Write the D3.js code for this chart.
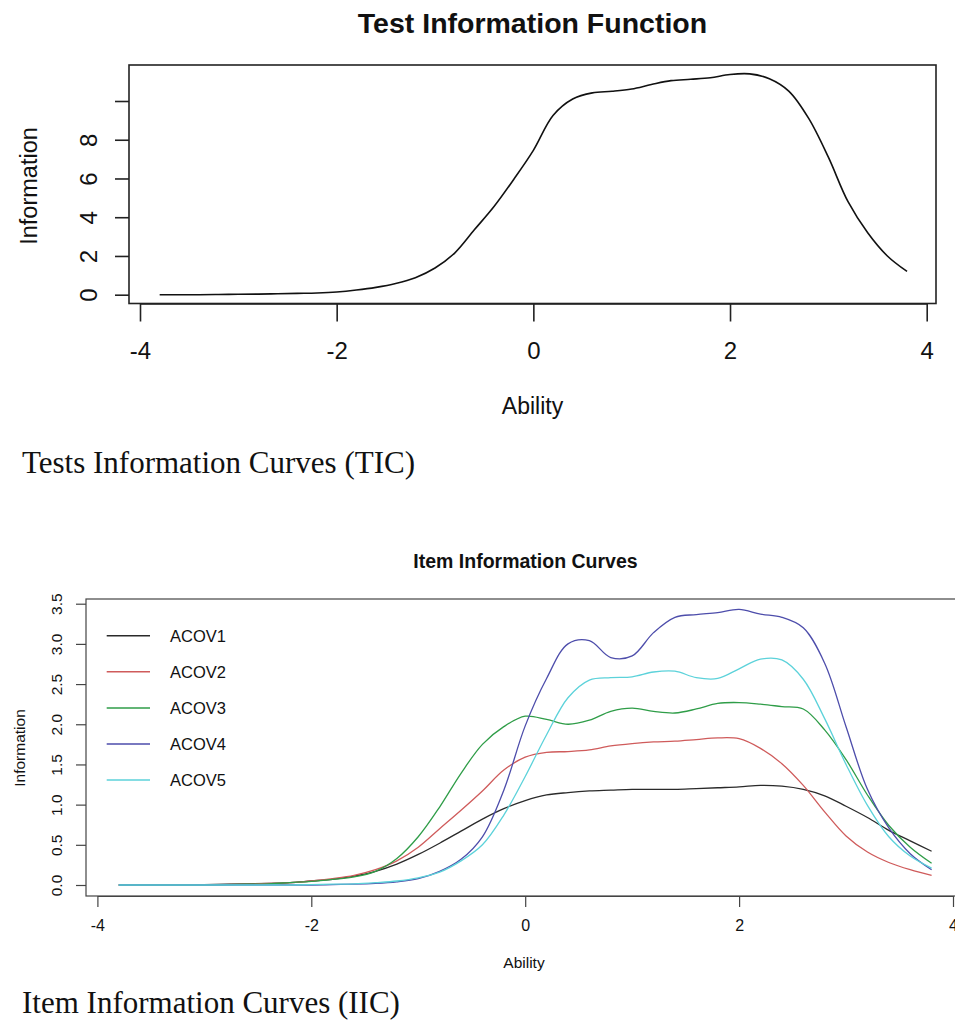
<!DOCTYPE html>
<html>
<head>
<meta charset="utf-8">
<script src="https://cdn.jsdelivr.net/npm/d3@7"></script>
<style>
  body { margin: 0; background: #fff; }
  svg { display: block; }
  text { font-family: "Liberation Sans", Arial, sans-serif; fill: #111; }
  .caption { font-family: "Liberation Serif", "Times New Roman", serif; }
</style>
</head>
<body>
<svg id="chart" width="955" height="1020"></svg>
<script>
// ability grid shared by every curve
const ability = [-3.8, -3.6, -3.4, -3.2, -3.0, -2.8, -2.6, -2.4, -2.2, -2.0,
  -1.8, -1.6, -1.4, -1.2, -1.0, -0.8, -0.6, -0.4, -0.2, 0.0,
  0.2, 0.4, 0.6, 0.8, 1.0, 1.2, 1.4, 1.6, 1.8, 2.0,
  2.2, 2.4, 2.6, 2.8, 3.0, 3.2, 3.4, 3.6, 3.8];

// test information function
const testInfo = [0, 0, 0, 0.01, 0.02, 0.03, 0.05, 0.07, 0.09, 0.14,
  0.24, 0.38, 0.58, 0.88, 1.38, 2.15, 3.35, 4.55, 5.95, 7.45,
  9.25, 10.1, 10.42, 10.5, 10.62, 10.85, 11.05, 11.12, 11.2, 11.37,
  11.4, 11.15, 10.5, 9.1, 7.1, 4.8, 3.2, 2.0, 1.2];

// item information curves
const acov1 = [0, 0, 0, 0, 0.005, 0.01, 0.015, 0.02, 0.03, 0.05,
  0.07, 0.11, 0.17, 0.26, 0.38, 0.52, 0.67, 0.82, 0.95, 1.05,
  1.12, 1.15, 1.17, 1.18, 1.19, 1.19, 1.19, 1.2, 1.21, 1.22,
  1.24, 1.23, 1.19, 1.11, 0.98, 0.84, 0.68, 0.55, 0.42];
const acov2 = [0, 0, 0, 0, 0, 0.005, 0.01, 0.02, 0.03, 0.05,
  0.08, 0.12, 0.19, 0.3, 0.47, 0.7, 0.93, 1.17, 1.43, 1.59,
  1.65, 1.66, 1.68, 1.73, 1.76, 1.78, 1.79, 1.81, 1.83, 1.82,
  1.7, 1.51, 1.24, 0.91, 0.61, 0.41, 0.28, 0.19, 0.12];
const acov3 = [0, 0, 0, 0, 0, 0.005, 0.01, 0.015, 0.03, 0.045,
  0.07, 0.1, 0.17, 0.33, 0.6, 0.97, 1.39, 1.75, 1.97, 2.1,
  2.06, 2.0, 2.05, 2.16, 2.2, 2.16, 2.14, 2.19, 2.26, 2.27,
  2.25, 2.22, 2.19, 1.93, 1.56, 1.12, 0.74, 0.47, 0.27];
const acov4 = [0, 0, 0, 0, 0, 0, 0, 0, 0, 0,
  0.005, 0.01, 0.02, 0.04, 0.08, 0.17, 0.32, 0.6, 1.18, 1.98,
  2.57, 3.0, 3.04, 2.83, 2.85, 3.14, 3.33, 3.365, 3.39, 3.43,
  3.37, 3.33, 3.2, 2.76, 1.97, 1.19, 0.71, 0.39, 0.19];
const acov5 = [0, 0, 0, 0, 0, 0, 0, 0, 0, 0.005,
  0.01, 0.015, 0.03, 0.05, 0.09, 0.16, 0.3, 0.5, 0.87, 1.35,
  1.87, 2.33, 2.55, 2.58, 2.59, 2.65, 2.66, 2.58, 2.57, 2.69,
  2.81, 2.8, 2.56, 2.07, 1.5, 0.99, 0.6, 0.36, 0.21];

const itemNames = ["ACOV1", "ACOV2", "ACOV3", "ACOV4", "ACOV5"];
const itemSeries = [acov1, acov2, acov3, acov4, acov5];

// tick values / labels
const xTicks = [-4, -2, 0, 2, 4];
const tifYTicks = [0, 2, 4, 6, 8, 10];
const tifYLabels = ["0", "2", "4", "6", "8", ""]; // R drops the "10"
const iicYTicks = [0, 0.5, 1, 1.5, 2, 2.5, 3, 3.5];

const itemColors = ["#2a2a2a", "#cf5b5b", "#2f9d48", "#4d4dab", "#5cd2da"];

var svg = d3.select("#chart");

// ============ Test Information Function ============ //
var x1 = d3.scaleLinear().domain([-4, 4]).range([140, 926.7]);
var y1 = d3.scaleLinear().domain([0, 10]).range([294.7, 101]);
var box1 = { left: 129, right: 936, top: 65, bottom: 303.5 };

var tif = svg.append("g");

tif.append("text")
  .attr("x", (box1.left + box1.right) / 2)
  .attr("y", 33)
  .attr("text-anchor", "middle")
  .style("font-size", "28.5px")
  .style("font-weight", "bold")
  .text("Test Information Function");

tif.append("path")
  .datum(ability.map((a, i) => [a, testInfo[i]]))
  .attr("fill", "none")
  .attr("stroke", "#111")
  .attr("stroke-width", 1.6)
  .attr("d", d3.line().x((d) => x1(d[0])).y((d) => y1(d[1])).curve(d3.curveCatmullRom));

tif.append("rect")
  .attr("x", box1.left).attr("y", box1.top)
  .attr("width", box1.right - box1.left).attr("height", box1.bottom - box1.top)
  .attr("fill", "none").attr("stroke", "#222").attr("stroke-width", 1.6);

tif.append("g")
  .attr("transform", `translate(0,${box1.bottom})`)
  .call(d3.axisBottom(x1).tickValues(xTicks).tickSize(18).tickSizeOuter(0))
  .call((g) => g.select(".domain").attr("stroke", "#222").attr("stroke-width", 1.6))
  .call((g) => g.selectAll(".tick line").attr("stroke", "#222").attr("stroke-width", 1.6))
  .call((g) => g.selectAll(".tick text").attr("y", 55).attr("dy", 0)
    .style("font-size", "24px").attr("fill", "#111").text((d) => d < 0 ? "-" + Math.abs(d) : d));

tif.append("g")
  .attr("transform", `translate(${box1.left},0)`)
  .call(d3.axisLeft(y1).tickValues(tifYTicks).tickSize(14).tickSizeOuter(0).tickFormat((d, i) => tifYLabels[i]))
  .call((g) => g.select(".domain").remove())
  .call((g) => g.selectAll(".tick line").attr("stroke", "#222").attr("stroke-width", 1.6))
  .call((g) => g.selectAll(".tick text")
    .attr("transform", "rotate(-90)").attr("x", 0).attr("y", -32).attr("dy", 0)
    .attr("text-anchor", "middle").style("font-size", "24px").attr("fill", "#111"));

tif.append("text")
  .attr("x", (box1.left + box1.right) / 2).attr("y", 414)
  .attr("text-anchor", "middle").style("font-size", "23px")
  .text("Ability");

tif.append("text")
  .attr("transform", "translate(37,186) rotate(-90)")
  .attr("text-anchor", "middle").style("font-size", "23.5px")
  .text("Information");

tif.append("text")
  .attr("class", "caption")
  .attr("x", 22).attr("y", 473)
  .style("font-size", "31px")
  .text("Tests Information Curves (TIC)");

// ============ Item Information Curves ============ //
var x2 = d3.scaleLinear().domain([-4, 4]).range([97.4, 953]);
var y2 = d3.scaleLinear().domain([0, 3.5]).range([885, 603.7]);
var box2 = { left: 86, right: 965, top: 599, bottom: 896 };

var iic = svg.append("g");

iic.append("text")
  .attr("x", (box2.left + box2.right) / 2)
  .attr("y", 568)
  .attr("text-anchor", "middle")
  .style("font-size", "19.5px")
  .style("font-weight", "bold")
  .text("Item Information Curves");

var itemLine = d3.line().x((d) => x2(d[0])).y((d) => y2(d[1])).curve(d3.curveCatmullRom);

iic.append("g")
  .selectAll("path")
  .data(itemSeries)
  .join("path")
  .attr("fill", "none")
  .attr("stroke", (d, i) => itemColors[i])
  .attr("stroke-width", 1.3)
  .attr("d", (s) => itemLine(ability.map((a, i) => [a, s[i]])));

iic.append("rect")
  .attr("x", box2.left).attr("y", box2.top)
  .attr("width", box2.right - box2.left).attr("height", box2.bottom - box2.top)
  .attr("fill", "none").attr("stroke", "#444").attr("stroke-width", 1.2);

iic.append("g")
  .attr("transform", `translate(0,${box2.bottom})`)
  .call(d3.axisBottom(x2).tickValues(xTicks).tickSize(11).tickSizeOuter(0))
  .call((g) => g.select(".domain").attr("stroke", "#444").attr("stroke-width", 1.2))
  .call((g) => g.selectAll(".tick line").attr("stroke", "#444").attr("stroke-width", 1.2))
  .call((g) => g.selectAll(".tick text").attr("y", 35).attr("dy", 0)
    .style("font-size", "16px").attr("fill", "#111").text((d) => d < 0 ? "-" + Math.abs(d) : d));

iic.append("g")
  .attr("transform", `translate(${box2.left},0)`)
  .call(d3.axisLeft(y2).tickValues(iicYTicks).tickSize(10).tickSizeOuter(0).tickFormat(d3.format(".1f")))
  .call((g) => g.select(".domain").remove())
  .call((g) => g.selectAll(".tick line").attr("stroke", "#444").attr("stroke-width", 1.2))
  .call((g) => g.selectAll(".tick text")
    .attr("transform", "rotate(-90)").attr("x", 0).attr("y", -24.5).attr("dy", 0)
    .attr("text-anchor", "middle").style("font-size", "15.5px").attr("fill", "#111"));

iic.append("text")
  .attr("x", 524).attr("y", 968)
  .attr("text-anchor", "middle").style("font-size", "15.5px")
  .text("Ability");

iic.append("text")
  .attr("transform", "translate(25,748) rotate(-90)")
  .attr("text-anchor", "middle").style("font-size", "15.5px")
  .text("Information");

// legend
var legend = iic.append("g")
  .selectAll("g")
  .data(itemNames)
  .join("g")
  .attr("transform", (d, i) => `translate(0,${635.7 + i * 36.1})`);
legend.append("line")
  .attr("x1", 106.7).attr("x2", 150)
  .attr("stroke", (d, i) => itemColors[i]).attr("stroke-width", 1.5);
legend.append("text")
  .attr("x", 170).attr("dy", "0.36em")
  .style("font-size", "16.5px")
  .text((d) => d);

iic.append("text")
  .attr("class", "caption")
  .attr("x", 22).attr("y", 1013)
  .style("font-size", "31px")
  .text("Item Information Curves (IIC)");
</script>
</body>
</html>
